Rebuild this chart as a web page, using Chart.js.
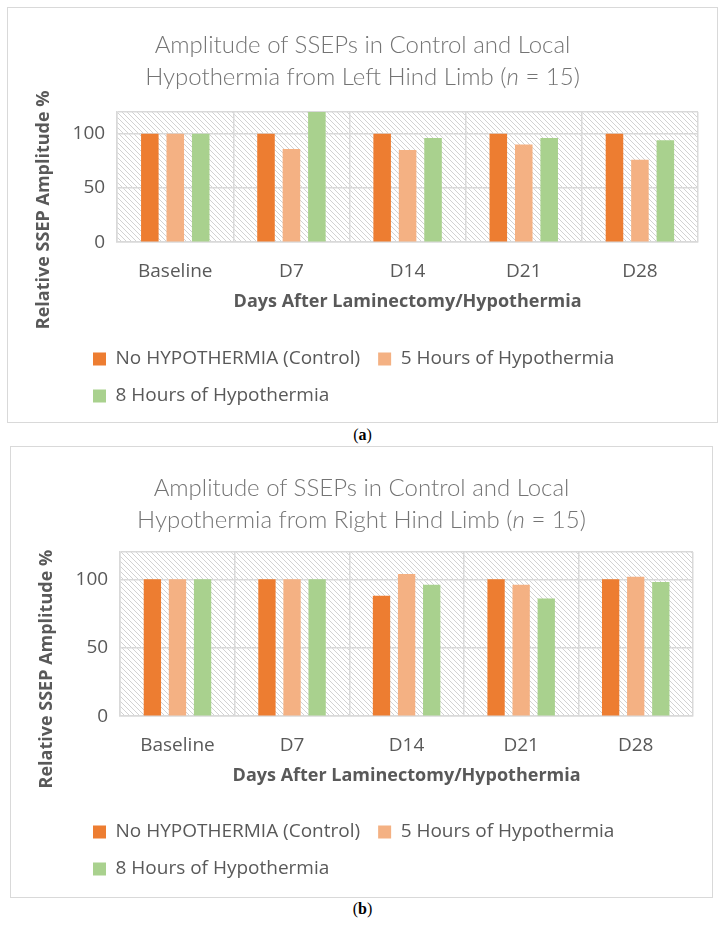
<!DOCTYPE html>
<html><head><meta charset="utf-8">
<script src="https://cdn.jsdelivr.net/npm/chart.js@4.4.1/dist/chart.umd.min.js"></script>
<style>
html,body{margin:0;padding:0;background:#fff;width:725px;height:925px;overflow:hidden;}
.box{position:absolute;border:1px solid #d9d9d9;box-sizing:border-box;background:#fff;}
.cw{position:absolute;left:0;top:0;}
.title{position:absolute;left:0;right:0;text-align:center;font-family:Lato,'Open Sans',sans-serif;font-weight:300;font-size:24px;line-height:32px;color:#747474;pointer-events:none;}
.cap{position:absolute;left:0;width:725px;text-align:center;font-family:'Liberation Serif','DejaVu Serif',serif;font-size:16px;color:#000;}
</style></head>
<body>
<div class="box" style="left:7px;top:7px;width:711px;height:416px">
  <div class="cw" style="width:709px;height:414px"><canvas id="chartA"></canvas></div>
  <div class="title" style="top:20px">Amplitude of SSEPs in Control and Local<br>Hypothermia from Left Hind Limb (<i>n</i> = 15)</div>
</div>
<div class="cap" style="top:426px">(<b>a</b>)</div>
<div class="box" style="left:10px;top:446px;width:703px;height:452px">
  <div class="cw" style="width:701px;height:450px"><canvas id="chartB"></canvas></div>
  <div class="title" style="top:24px">Amplitude of SSEPs in Control and Local<br>Hypothermia from Right Hind Limb (<i>n</i> = 15)</div>
</div>
<div class="cap" style="top:900px">(<b>b</b>)</div>
<script>
// ---- data ----
const categories = ['Baseline', 'D7', 'D14', 'D21', 'D28'];
const seriesNames = ['No HYPOTHERMIA (Control)', '5 Hours of Hypothermia', '8 Hours of Hypothermia'];
const leftControl = [100, 100, 100, 100, 100];
const left5h      = [100, 86, 85, 90, 76];
const left8h      = [100, 120, 96, 96, 94];
const rightControl = [100, 100, 88, 100, 100];
const right5h      = [100, 100, 104, 96, 102];
const right8h      = [100, 100, 96, 86, 98];
const yTicks = [0, 50, 100];
const yMax = 120;
const xTitle = 'Days After Laminectomy/Hypothermia';
const yTitle = 'Relative SSEP Amplitude %';

// ---- styles ----
const colors = ['#ED7D31', '#F4B183', '#A9D18E'];
const gridColor = '#d9d9d9';
const textColor = '#595959';

function makePattern() {
  const c = document.createElement('canvas');
  c.width = 5; c.height = 5;
  const g = c.getContext('2d');
  g.strokeStyle = '#d2d2d2';
  g.lineWidth = 1;
  g.beginPath();
  g.moveTo(-1, -1); g.lineTo(6, 6);
  g.moveTo(-1, 4); g.lineTo(1, 6);
  g.moveTo(4, -1); g.lineTo(6, 1);
  g.stroke();
  return g.createPattern(c, 'repeat');
}

const hatchPlugin = {
  id: 'hatch',
  beforeDraw(chart) {
    const a = chart.chartArea;
    const ctx = chart.ctx;
    ctx.save();
    ctx.fillStyle = makePattern();
    ctx.fillRect(a.left, a.top, a.right - a.left, a.bottom - a.top);
    ctx.restore();
  }
};

const legendPlace = {
  id: 'legendPlace',
  afterLayout(chart, args, opts) {
    const lg = chart.legend;
    if (!lg) return;
    const lo = chart.options.plugins.legend.labels;
    const pad = lo.padding;
    const fs = lo.font.size;
    const itemH = Math.max(fs, lo.boxHeight || fs);
    const dx = opts.boxX - (lg.left + pad);
    const dy = opts.row1Y - (lg.top + pad + itemH / 2);
    lg.left += dx; lg.right += dx;
    lg.top += dy; lg.bottom += dy;
  }
};

function makeChart(id, vals, pad, place, yShiftSpaces) {
  const ctx = document.getElementById(id);
  return new Chart(ctx, {
    type: 'bar',
    data: {
      labels: categories,
      datasets: vals.map((v, i) => ({
        label: seriesNames[i],
        data: v,
        backgroundColor: colors[i],
        borderWidth: 0,
        categoryPercentage: 0.657,
        barPercentage: 0.69
      }))
    },
    options: {
      responsive: true,
      maintainAspectRatio: false,
      animation: false,
      layout: { padding: pad },
      scales: {
        x: {
          grid: { color: gridColor, lineWidth: 1.5, drawTicks: false, offset: true },
          border: { display: true, color: gridColor, width: 1.5 },
          ticks: { font: { family: 'Open Sans', size: 19 }, color: textColor, padding: 18 },
          title: { display: true, text: xTitle, color: textColor,
                   font: { family: 'Open Sans', size: 18, weight: 'bold' }, padding: { top: -9.6, bottom: 0 } }
        },
        y: {
          min: 0, max: yMax,
          afterBuildTicks: s => { s.ticks = yTicks.concat([yMax]).map(v => ({ value: v })); },
          grid: { color: gridColor, lineWidth: 1.5, drawTicks: false },
          border: { display: true, color: gridColor, width: 1.5 },
          ticks: { font: { family: 'Open Sans', size: 19 }, color: textColor, padding: 12,
                   callback: v => yTicks.includes(v) ? String(v) : '' },
          title: { display: true, text: yTitle + '\u00a0'.repeat(yShiftSpaces), color: textColor,
                   font: { family: 'Open Sans', size: 18, weight: 'bold' }, padding: { top: 0, bottom: 6 } }
        }
      },
      plugins: {
        title: { display: false },
        tooltip: { enabled: false },
        legend: {
          display: true, position: 'bottom', align: 'start',
          labels: { font: { family: 'Open Sans', size: 19 }, color: textColor,
                    boxWidth: 13, boxHeight: 13, padding: 18 }
        },
        legendPlace: place
      }
    },
    plugins: [hatchPlugin, legendPlace]
  });
}

makeChart('chartA', [leftControl, left5h, left8h],
  { top: 104, left: 25, right: 19, bottom: 25 }, { boxX: 85, row1Y: 351 }, 14);
makeChart('chartB', [rightControl, right5h, right8h],
  { top: 105, left: 25, right: 19, bottom: 26 }, { boxX: 82, row1Y: 385 }, 15);
</script>
</body></html>
